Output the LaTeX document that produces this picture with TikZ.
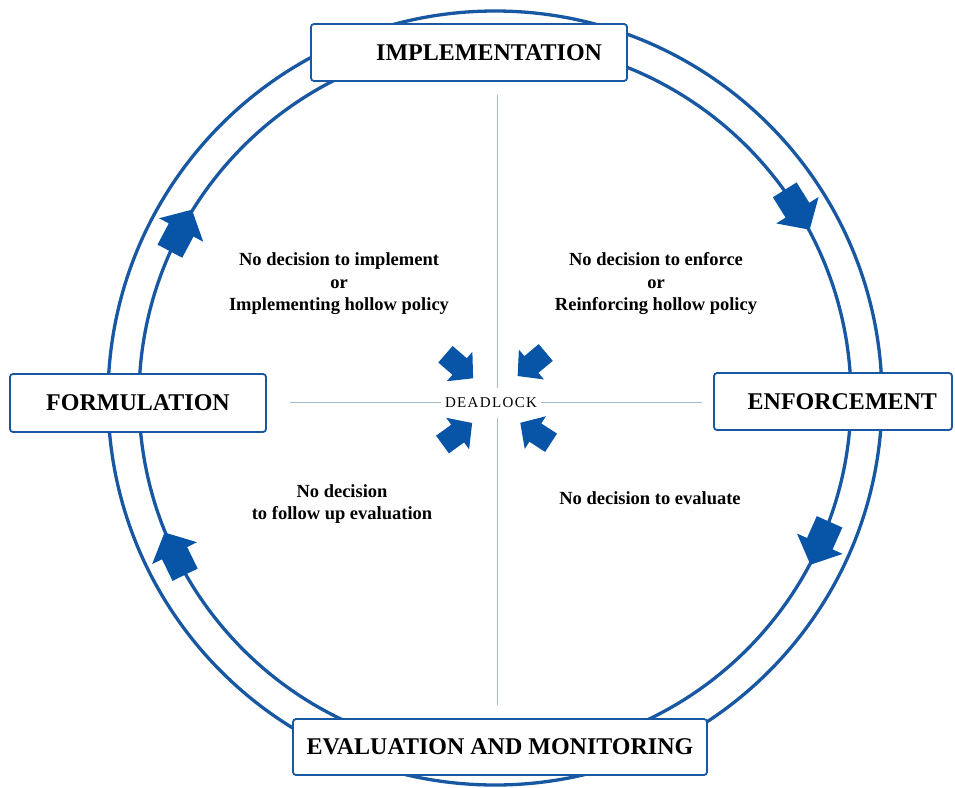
\documentclass[tikz,border=0pt]{standalone}
\usepackage{fontspec}
\setmainfont{Liberation Serif}
\newfontfamily\spacedfont[LetterSpace=9]{Liberation Serif}
\usetikzlibrary{positioning}

\definecolor{ringblue}{RGB}{24,88,162}
\definecolor{arrowblue}{RGB}{8,84,166}
\definecolor{crossgray}{RGB}{165,184,204}

\tikzset{
  stage/.style={draw=ringblue, line width=1.8pt, fill=white, rounded corners=3pt,
    inner ysep=0pt, font=\fontsize{24}{28}\selectfont\bfseries},
  note/.style={align=center, font=\fontsize{18.5}{22.5}\selectfont\bfseries},
  ring/.style={ringblue, line width=3.3pt},
  cross/.style={crossgray, line width=0.9pt}
}

\begin{document}
\begin{tikzpicture}[x=1pt,y=-1pt]
  \useasboundingbox (0,0) rectangle (955,787);
  %draw the ring
  \draw [ring] (495,398) circle [radius=387pt];
  \draw [ring] (495,398) circle [radius=356pt];
  %arrows on the ring, clockwise
  \foreach \ang in {152,32,-24,206}
    \fill [arrowblue, shift={({495+356*cos(\ang)},{398-356*sin(\ang)})}, rotate=\ang-90]
      (-23,-14) -- (1,-14) -- (1,-25) -- (24,0) -- (1,25) -- (1,14) -- (-23,14) -- cycle;
  %draw the cross lines
  \coordinate (vtop) at (497,95);
  \coordinate (vbot) at (497,705);
  \coordinate (hleft) at (290,402);
  \coordinate (hright) at (702,402);
  \draw [cross] (vtop) -- (vbot);
  \draw [cross] (hleft) -- (hright);
  \node [fill=white, inner xsep=4pt, minimum height=30pt,
    font=\spacedfont\fontsize{15}{17}\selectfont] (deadlock) at (491,403) {DEADLOCK};
  %arrows pointing to the deadlock
  \foreach \x/\y/\dir in {459/366/-41, 532/364/220, 457/434/36, 536/433/147}
    \fill [arrowblue, shift={(\x,\y)}, rotate=\dir, scale=0.78]
      (-23,-14) -- (1,-14) -- (1,-25) -- (24,0) -- (1,25) -- (1,14) -- (-23,14) -- cycle;
  %stages of the cycle
  \node [stage, minimum width=316pt, minimum height=57pt, text width=266pt,
    inner xsep=25pt, align=right] (impl) at (469,52.5) {IMPLEMENTATION};
  \node [stage, minimum width=256pt, minimum height=58pt, inner xsep=0pt]
    (form) at (138,403) {FORMULATION};
  \node [stage, minimum width=238pt, minimum height=57pt, text width=208pt,
    inner xsep=15pt, align=right] (enf) at (833,401.5) {ENFORCEMENT};
  \node [stage, minimum width=414pt, minimum height=56pt, inner xsep=0pt]
    (eval) at (500,747) {EVALUATION AND MONITORING};
  %notes in the quadrants
  \node [note] (implnote) at (339,284)
    {No decision to implement\\or\\Implementing hollow policy};
  \node [note] (enfnote) at (656,284)
    {No decision to enforce\\or\\Reinforcing hollow policy};
  \node [note] (evalnote) at (650,498) {No decision to evaluate};
  \node [note] (follownote) at (342,504) {No decision\\to follow up evaluation};
\end{tikzpicture}
\end{document}
